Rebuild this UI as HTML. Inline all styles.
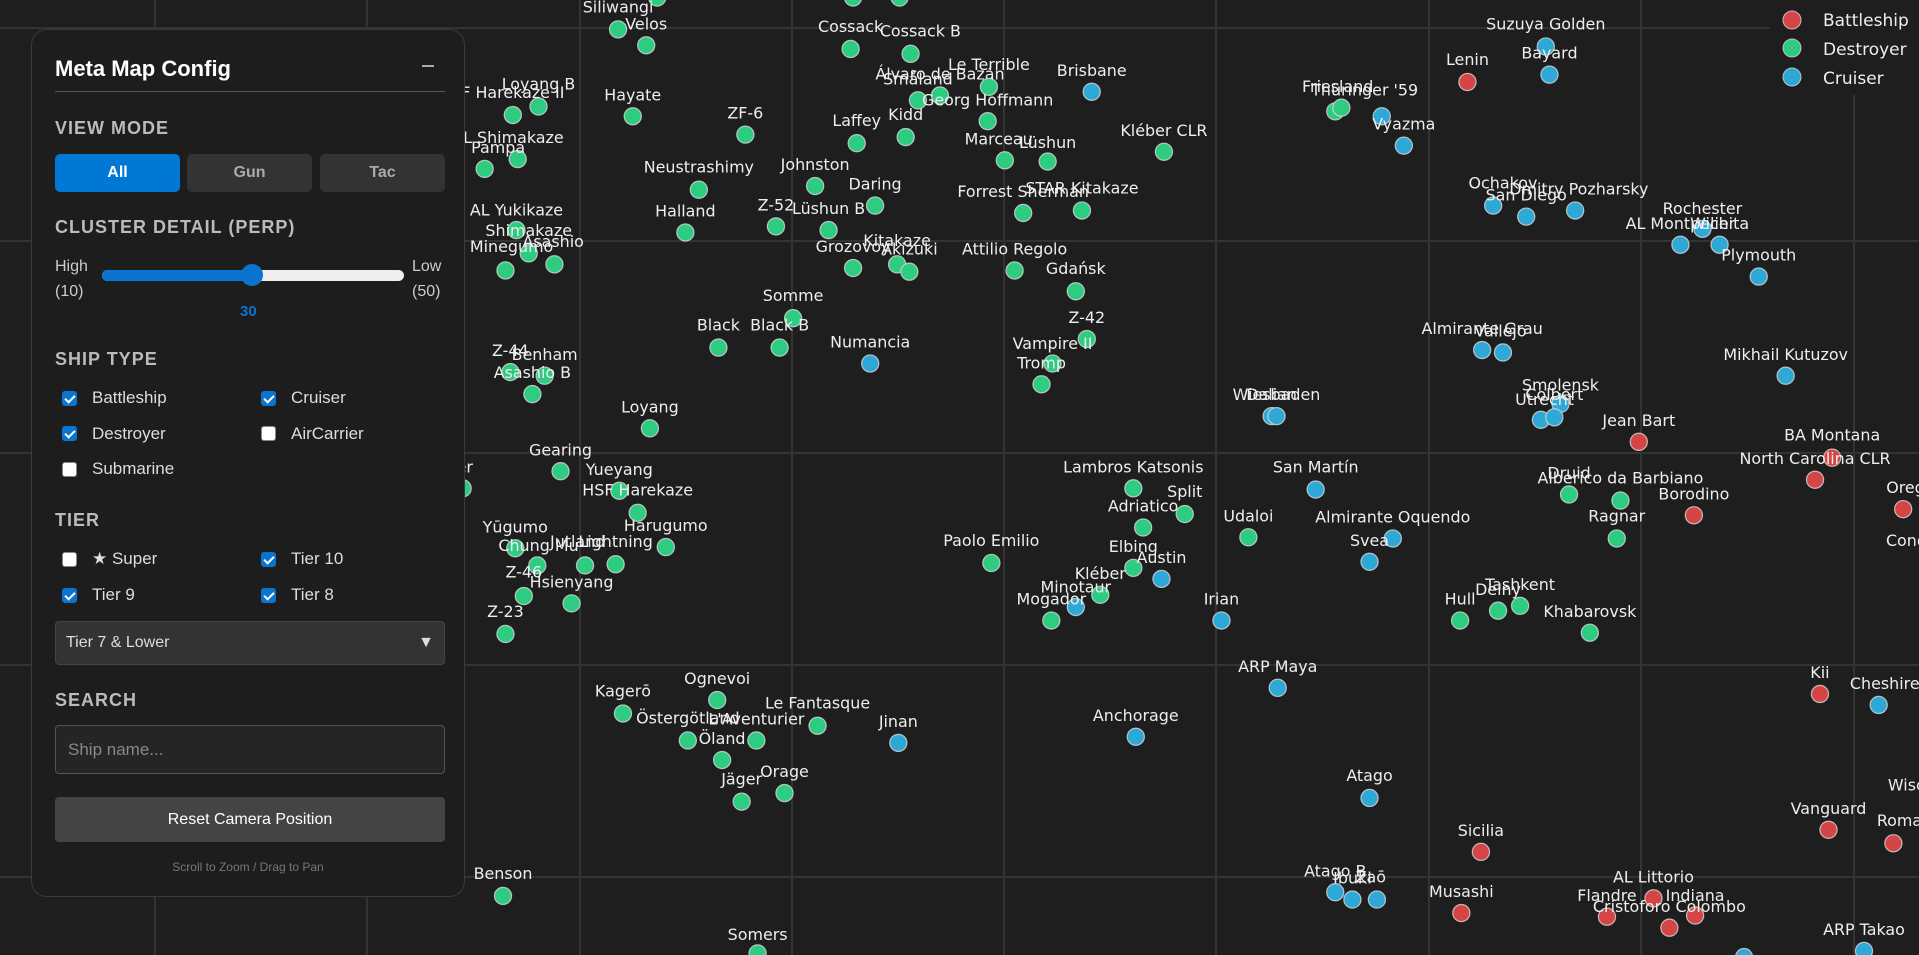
<!DOCTYPE html>
<html><head><meta charset="utf-8">
<style>
html,body{margin:0;padding:0;background:#1e1e1e;width:1919px;height:955px;overflow:hidden;font-family:"Liberation Sans",sans-serif;}
svg{position:absolute;left:0;top:0}
.d{fill:#2ecc80}.c{fill:#2ea8d6}.b{fill:#d64545}
circle{stroke:#d8d8d8;stroke-width:1;stroke-opacity:.8}
text{fill:#eee;font-family:"DejaVu Sans",sans-serif;font-size:13px;text-anchor:middle}
#p{position:absolute;left:31px;top:29px;width:434px;height:868px;background:#1d1d1d;border:1px solid #3a3a3a;border-radius:16px;box-sizing:border-box;color:#ddd}
#p div{position:absolute}
.h{font-weight:bold;color:#bbb;font-size:18px;letter-spacing:1px}
.btn{height:38px;line-height:38px;text-align:center;font-weight:bold;font-size:16px;border-radius:5px;background:#333;color:#aaa}
.cb{width:15px;height:15px;border-radius:3px;background:#fff;border:1px solid #888;box-sizing:border-box}
.cb.on{background:#0b74d1;border-color:#0b74d1}
.cb.on::after{content:"";position:absolute;left:4px;top:1px;width:4px;height:8px;border:solid #fff;border-width:0 2px 2px 0;transform:rotate(45deg)}
.lb{font-size:17px;color:#ddd}
</style></head><body>
<svg width="1919" height="955">
<g stroke="#333" stroke-width="2">
<line x1="155" y1="0" x2="155" y2="955"/><line x1="367" y1="0" x2="367" y2="955"/><line x1="580" y1="0" x2="580" y2="955"/><line x1="792" y1="0" x2="792" y2="955"/><line x1="1004" y1="0" x2="1004" y2="955"/><line x1="1216" y1="0" x2="1216" y2="955"/><line x1="1429" y1="0" x2="1429" y2="955"/><line x1="1641" y1="0" x2="1641" y2="955"/><line x1="1854" y1="0" x2="1854" y2="955"/>
<line x1="0" y1="28" x2="1919" y2="28"/><line x1="0" y1="241" x2="1919" y2="241"/><line x1="0" y1="453" x2="1919" y2="453"/><line x1="0" y1="665" x2="1919" y2="665"/><line x1="0" y1="877" x2="1919" y2="877"/>
</g>
<g transform="scale(1.2239)">
<circle class="d" cx="537" cy="-2" r="7"/><circle class="d" cx="697" cy="-2" r="7"/><circle class="d" cx="735" cy="-2" r="7"/>
<circle class="d" cx="505" cy="24" r="7"/><text x="505" y="10">Siliwangi</text>
<circle class="d" cx="528" cy="37" r="7"/><text x="528" y="24">Velos</text>
<circle class="d" cx="440" cy="87" r="7"/><text x="440" y="73">Loyang B</text>
<circle class="d" cx="419" cy="94" r="7"/><text x="410" y="80">HSF Harekaze II</text>
<circle class="d" cx="517" cy="95" r="7"/><text x="517" y="82">Hayate</text>
<circle class="d" cx="423" cy="130" r="7"/><text x="415" y="117">AL Shimakaze</text>
<circle class="d" cx="396" cy="138" r="7"/><text x="407" y="125">Pampa</text>
<circle class="d" cx="609" cy="110" r="7"/><text x="609" y="97">ZF-6</text>
<circle class="d" cx="700" cy="117" r="7"/><text x="700" y="103">Laffey</text>
<circle class="d" cx="740" cy="112" r="7"/><text x="740" y="98">Kidd</text>
<circle class="d" cx="695" cy="40" r="7"/><text x="695" y="26">Cossack</text>
<circle class="d" cx="744" cy="44" r="7"/><text x="752" y="30">Cossack B</text>
<circle class="d" cx="768" cy="78" r="7"/><text x="768" y="65">Álvaro de Bazán</text>
<circle class="d" cx="750" cy="82" r="7"/><text x="750" y="69">Småland</text>
<circle class="d" cx="808" cy="71" r="7"/><text x="808" y="57">Le Terrible</text>
<circle class="d" cx="807" cy="99" r="7"/><text x="807" y="86">Georg Hoffmann</text>
<circle class="c" cx="892" cy="75" r="7"/><text x="892" y="62">Brisbane</text>
<circle class="d" cx="951" cy="124" r="7"/><text x="951" y="111">Kléber CLR</text>
<circle class="d" cx="821" cy="131" r="7"/><text x="816" y="118">Marceau</text>
<circle class="d" cx="856" cy="132" r="7"/><text x="856" y="121">Lüshun</text>
<circle class="d" cx="571" cy="155" r="7"/><text x="571" y="141">Neustrashimy</text>
<circle class="d" cx="666" cy="152" r="7"/><text x="666" y="139">Johnston</text>
<circle class="d" cx="715" cy="168" r="7"/><text x="715" y="155">Daring</text>
<circle class="d" cx="560" cy="190" r="7"/><text x="560" y="177">Halland</text>
<circle class="d" cx="634" cy="185" r="7"/><text x="634" y="172">Z-52</text>
<circle class="d" cx="677" cy="188" r="7"/><text x="677" y="175">Lüshun B</text>
<circle class="d" cx="836" cy="174" r="7"/><text x="836" y="161">Forrest Sherman</text>
<circle class="d" cx="884" cy="172" r="7"/><text x="884" y="158">STAR Kitakaze</text>
<circle class="d" cx="422" cy="188" r="7"/><text x="422" y="176">AL Yukikaze</text>
<circle class="d" cx="432" cy="207" r="7"/><text x="432" y="193">Shimakaze</text>
<circle class="d" cx="453" cy="216" r="7"/><text x="452" y="202">Asashio</text>
<circle class="d" cx="413" cy="221" r="7"/><text x="418" y="206">Minegumo</text>
<circle class="d" cx="697" cy="219" r="7"/><text x="697" y="206">Grozovoy</text>
<circle class="d" cx="733" cy="216" r="7"/><text x="733" y="201">Kitakaze</text>
<circle class="d" cx="743" cy="222" r="7"/><text x="743" y="208">Akizuki</text>
<circle class="d" cx="829" cy="221" r="7"/><text x="829" y="208">Attilio Regolo</text>
<circle class="d" cx="879" cy="238" r="7"/><text x="879" y="224">Gdańsk</text>
<circle class="d" cx="888" cy="277" r="7"/><text x="888" y="264">Z-42</text>
<circle class="d" cx="648" cy="260" r="7"/><text x="648" y="246">Somme</text>
<circle class="d" cx="587" cy="284" r="7"/><text x="587" y="270">Black</text>
<circle class="d" cx="637" cy="284" r="7"/><text x="637" y="270">Black B</text>
<circle class="c" cx="711" cy="297" r="7"/><text x="711" y="284">Numancia</text>
<circle class="d" cx="860" cy="297" r="7"/><text x="860" y="285">Vampire II</text>
<circle class="d" cx="851" cy="314" r="7"/><text x="851" y="301">Tromp</text>
<circle class="d" cx="417" cy="304" r="7"/><text x="417" y="291">Z-44</text>
<circle class="d" cx="445" cy="307" r="7"/><text x="445" y="294">Benham</text>
<circle class="d" cx="435" cy="322" r="7"/><text x="435" y="309">Asashio B</text>
<circle class="d" cx="531" cy="350" r="7"/><text x="531" y="337">Loyang</text>
<circle class="d" cx="458" cy="385" r="7"/><text x="458" y="372">Gearing</text>
<circle class="d" cx="378" cy="399" r="7"/><text x="360" y="386">Fletcher</text>
<circle class="d" cx="506" cy="401" r="7"/><text x="506" y="388">Yueyang</text>
<circle class="d" cx="521" cy="419" r="7"/><text x="521" y="405">HSF Harekaze</text>
<circle class="d" cx="421" cy="448" r="7"/><text x="421" y="435">Yūgumo</text>
<circle class="d" cx="439" cy="462" r="7"/><text x="440" y="450">Chung Mu</text>
<circle class="d" cx="478" cy="462" r="7"/><text x="472" y="447">Jutland</text>
<circle class="d" cx="503" cy="461" r="7"/><text x="503" y="447">Lightning</text>
<circle class="d" cx="544" cy="447" r="7"/><text x="544" y="434">Harugumo</text>
<circle class="d" cx="428" cy="487" r="7"/><text x="428" y="472">Z-46</text>
<circle class="d" cx="467" cy="493" r="7"/><text x="467" y="480">Hsienyang</text>
<circle class="d" cx="413" cy="518" r="7"/><text x="413" y="504">Z-23</text>
<circle class="d" cx="810" cy="460" r="7"/><text x="810" y="446">Paolo Emilio</text>
<circle class="d" cx="926" cy="399" r="7"/><text x="926" y="386">Lambros Katsonis</text>
<circle class="d" cx="968" cy="420" r="7"/><text x="968" y="406">Split</text>
<circle class="d" cx="934" cy="431" r="7"/><text x="934" y="418">Adriatico</text>
<circle class="d" cx="926" cy="464" r="7"/><text x="926" y="451">Elbing</text>
<circle class="c" cx="949" cy="473" r="7"/><text x="949" y="460">Austin</text>
<circle class="d" cx="899" cy="486" r="7"/><text x="899" y="473">Kléber</text>
<circle class="c" cx="879" cy="496" r="7"/><text x="879" y="484">Minotaur</text>
<circle class="d" cx="859" cy="507" r="7"/><text x="859" y="494">Mogador</text>
<circle class="d" cx="1020" cy="439" r="7"/><text x="1020" y="426">Udaloi</text>
<circle class="c" cx="998" cy="507" r="7"/><text x="998" y="494">Irian</text>
<circle class="c" cx="1075" cy="400" r="7"/><text x="1075" y="386">San Martín</text>
<circle class="c" cx="1138" cy="440" r="7"/><text x="1138" y="427">Almirante Oquendo</text>
<circle class="c" cx="1119" cy="459" r="7"/><text x="1119" y="446">Svea</text>
<circle class="c" cx="1039" cy="340" r="7"/><text x="1039" y="327">Dalian</text>
<circle class="c" cx="1043" cy="340" r="7"/><text x="1043" y="327">Wiesbaden</text>
<circle class="c" cx="1129" cy="95" r="7"/><text x="1115" y="78">Thüringer '59</text>
<circle class="d" cx="1091" cy="91" r="7"/><circle class="d" cx="1096" cy="88" r="7"/><text x="1093" y="75">Friesland</text>
<circle class="c" cx="1147" cy="119" r="7"/><text x="1147" y="106">Vyazma</text>
<circle class="b" cx="1199" cy="67" r="7"/><text x="1199" y="53">Lenin</text>
<circle class="c" cx="1263" cy="38" r="7"/><text x="1263" y="24">Suzuya Golden</text>
<circle class="c" cx="1266" cy="61" r="7"/><text x="1266" y="48">Bayard</text>
<circle class="c" cx="1220" cy="168" r="7"/><text x="1228" y="154">Ochakov</text>
<circle class="c" cx="1247" cy="177" r="7"/><text x="1247" y="164">San Diego</text>
<circle class="c" cx="1287" cy="172" r="7"/><text x="1290" y="159">Dmitry Pozharsky</text>
<circle class="c" cx="1391" cy="187" r="7"/><text x="1391" y="175">Rochester</text>
<circle class="c" cx="1373" cy="200" r="7"/><text x="1373" y="187">AL Montpelier</text>
<circle class="c" cx="1405" cy="200" r="7"/><text x="1405" y="187">Wichita</text>
<circle class="c" cx="1437" cy="226" r="7"/><text x="1437" y="213">Plymouth</text>
<circle class="c" cx="1211" cy="286" r="7"/><text x="1211" y="273">Almirante Grau</text>
<circle class="c" cx="1228" cy="288" r="7"/><text x="1226" y="275">Vallejo</text>
<circle class="c" cx="1459" cy="307" r="7"/><text x="1459" y="294">Mikhail Kutuzov</text>
<circle class="c" cx="1275" cy="330" r="7"/><text x="1275" y="319">Smolensk</text>
<circle class="c" cx="1259" cy="343" r="7"/><text x="1262" y="331">Utrecht</text>
<circle class="c" cx="1270" cy="341" r="7"/><text x="1270" y="327">Colbert</text>
<circle class="b" cx="1339" cy="361" r="7"/><text x="1339" y="348">Jean Bart</text>
<circle class="b" cx="1497" cy="374" r="7"/><text x="1497" y="360">BA Montana</text>
<circle class="b" cx="1483" cy="392" r="7"/><text x="1483" y="379">North Carolina CLR</text>
<circle class="b" cx="1555" cy="416" r="7"/><text x="1565" y="403">Oregon</text>
<text x="1575" y="446">Conqueror</text>
<circle class="d" cx="1282" cy="404" r="7"/><text x="1282" y="391">Druid</text>
<circle class="d" cx="1324" cy="409" r="7"/><text x="1324" y="395">Alberico da Barbiano</text>
<circle class="b" cx="1384" cy="421" r="7"/><text x="1384" y="408">Borodino</text>
<circle class="d" cx="1321" cy="440" r="7"/><text x="1321" y="426">Ragnar</text>
<circle class="d" cx="1242" cy="495" r="7"/><text x="1242" y="482">Tashkent</text>
<circle class="d" cx="1224" cy="499" r="7"/><text x="1224" y="486">Delny</text>
<circle class="d" cx="1193" cy="507" r="7"/><text x="1193" y="494">Hull</text>
<circle class="d" cx="1299" cy="517" r="7"/><text x="1299" y="504">Khabarovsk</text>
<circle class="c" cx="1044" cy="562" r="7"/><text x="1044" y="549">ARP Maya</text>
<circle class="c" cx="928" cy="602" r="7"/><text x="928" y="589">Anchorage</text>
<circle class="b" cx="1487" cy="567" r="7"/><text x="1487" y="554">Kii</text>
<circle class="c" cx="1535" cy="576" r="7"/><text x="1540" y="563">Cheshire</text>
<circle class="c" cx="1119" cy="652" r="7"/><text x="1119" y="638">Atago</text>
<circle class="b" cx="1210" cy="696" r="7"/><text x="1210" y="683">Sicilia</text>
<circle class="b" cx="1494" cy="678" r="7"/><text x="1494" y="665">Vanguard</text>
<circle class="b" cx="1547" cy="689" r="7"/><text x="1552" y="675">Roma</text>
<text x="1575" y="646">Wisconsin</text>
<circle class="c" cx="1091" cy="729" r="7"/><text x="1091" y="716">Atago B</text>
<circle class="c" cx="1105" cy="735" r="7"/><text x="1105" y="722">Ibuki</text>
<circle class="c" cx="1125" cy="735" r="7"/><text x="1120" y="721">Zaō</text>
<circle class="b" cx="1194" cy="746" r="7"/><text x="1194" y="733">Musashi</text>
<circle class="b" cx="1351" cy="734" r="7"/><text x="1351" y="721">AL Littorio</text>
<circle class="b" cx="1313" cy="749" r="7"/><text x="1313" y="736">Flandre</text>
<circle class="b" cx="1385" cy="748" r="7"/><text x="1385" y="736">Indiana</text>
<circle class="b" cx="1364" cy="758" r="7"/><text x="1364" y="745">Cristoforo Colombo</text>
<circle class="c" cx="1523" cy="777" r="7"/><text x="1523" y="764">ARP Takao</text>
<circle class="c" cx="1425" cy="782" r="7"/>
<circle class="d" cx="509" cy="583" r="7"/><text x="509" y="569">Kagerō</text>
<circle class="d" cx="586" cy="572" r="7"/><text x="586" y="559">Ognevoi</text>
<circle class="d" cx="562" cy="605" r="7"/><text x="562" y="591">Östergötland</text>
<circle class="d" cx="618" cy="605" r="7"/><text x="618" y="592">L'Aventurier</text>
<circle class="d" cx="668" cy="593" r="7"/><text x="668" y="579">Le Fantasque</text>
<circle class="d" cx="590" cy="621" r="7"/><text x="590" y="608">Öland</text>
<circle class="c" cx="734" cy="607" r="7"/><text x="734" y="594">Jinan</text>
<circle class="d" cx="606" cy="655" r="7"/><text x="606" y="641">Jäger</text>
<circle class="d" cx="641" cy="648" r="7"/><text x="641" y="635">Orage</text>
<circle class="d" cx="411" cy="732" r="7"/><text x="411" y="718">Benson</text>
<circle class="d" cx="619" cy="779" r="7"/><text x="619" y="768">Somers</text>
</g>
<g>
<rect x="1770" y="0" width="149" height="95" fill="#1e1e1e"/>
<circle class="b" cx="1792" cy="20" r="9"/><circle class="d" cx="1792" cy="48" r="9"/><circle class="c" cx="1792" cy="77" r="9"/>
<text x="1823" y="26" style="text-anchor:start;font-size:17px">Battleship</text>
<text x="1823" y="55" style="text-anchor:start;font-size:17px">Destroyer</text>
<text x="1823" y="84" style="text-anchor:start;font-size:17px">Cruiser</text>
</g>
</svg>
<div id="p">
<div style="left:23px;top:26px;font-size:22px;font-weight:bold;color:#fff">Meta Map Config</div>
<div style="left:390px;top:35px;width:12px;height:2px;background:#aaa"></div>
<div style="left:23px;top:61px;width:390px;height:1px;background:#555"></div>
<div class="h" style="left:23px;top:88px">VIEW MODE</div>
<div class="btn" style="left:23px;top:124px;width:125px;background:#0078d4;color:#fff">All</div>
<div class="btn" style="left:155px;top:124px;width:125px">Gun</div>
<div class="btn" style="left:288px;top:124px;width:125px">Tac</div>
<div class="h" style="left:23px;top:187px">CLUSTER DETAIL (PERP)</div>
<div style="left:23px;top:224px;font-size:16px;color:#ccc;line-height:25px">High<br>(10)</div>
<div style="left:380px;top:224px;font-size:16px;color:#ccc;line-height:25px">Low<br>(50)</div>
<div style="left:70px;top:240px;width:302px;height:11px;border-radius:6px;background:#eee"></div>
<div style="left:70px;top:240px;width:150px;height:11px;border-radius:6px;background:#0b74d1"></div>
<div style="left:209px;top:234px;width:22px;height:22px;border-radius:50%;background:#0b74d1"></div>
<div style="left:208px;top:273px;font-size:15px;font-weight:bold;color:#0b74d1">30</div>
<div class="h" style="left:23px;top:319px">SHIP TYPE</div>
<div class="cb on" style="left:30px;top:361px"></div><div class="lb" style="left:60px;top:358px">Battleship</div>
<div class="cb on" style="left:229px;top:361px"></div><div class="lb" style="left:259px;top:358px">Cruiser</div>
<div class="cb on" style="left:30px;top:396px"></div><div class="lb" style="left:60px;top:394px">Destroyer</div>
<div class="cb" style="left:229px;top:396px"></div><div class="lb" style="left:259px;top:394px">AirCarrier</div>
<div class="cb" style="left:30px;top:432px"></div><div class="lb" style="left:60px;top:429px">Submarine</div>
<div class="h" style="left:23px;top:480px">TIER</div>
<div class="cb" style="left:30px;top:522px"></div><div class="lb" style="left:60px;top:519px">★ Super</div>
<div class="cb on" style="left:229px;top:522px"></div><div class="lb" style="left:259px;top:519px">Tier 10</div>
<div class="cb on" style="left:30px;top:558px"></div><div class="lb" style="left:60px;top:555px">Tier 9</div>
<div class="cb on" style="left:229px;top:558px"></div><div class="lb" style="left:259px;top:555px">Tier 8</div>
<div style="left:23px;top:591px;width:390px;height:44px;background:#333;border:1px solid #444;border-radius:4px;box-sizing:border-box;font-size:16px;line-height:42px;padding-left:10px;color:#ddd">Tier 7 &amp; Lower<span style="position:absolute;right:10px;top:0;font-size:16px;color:#ddd">▼</span></div>
<div class="h" style="left:23px;top:660px">SEARCH</div>
<div style="left:23px;top:695px;width:390px;height:49px;background:#252525;border:1px solid #555;border-radius:4px;box-sizing:border-box;font-size:17px;line-height:47px;padding-left:12px;color:#888">Ship name...</div>
<div style="left:23px;top:767px;width:390px;height:45px;background:#444;border-radius:4px;text-align:center;line-height:45px;font-size:16px;color:#fff">Reset Camera Position</div>
<div style="left:0;top:830px;width:432px;text-align:center;font-size:12px;color:#777">Scroll to Zoom / Drag to Pan</div>
</div>
</body></html>
